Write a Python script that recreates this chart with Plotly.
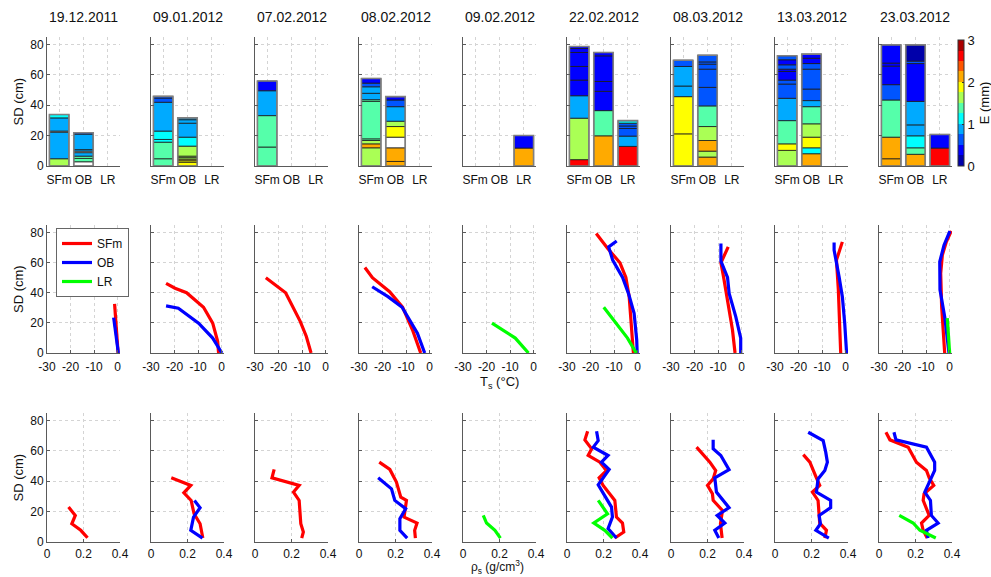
import plotly.graph_objects as go

W, H = 991, 577

dates = ["19.12.2011", "09.01.2012", "07.02.2012", "08.02.2012", "09.02.2012",
         "22.02.2012", "08.03.2012", "13.03.2012", "23.03.2012"]
sites = ["SFm", "OB", "LR"]

# ---- Snow layers: top of each layer (cm, from bottom) and E (mm); None = no data
SFm_top = [[4.8, 22.3, 23.0, 31.7, 33.9],
           [4.8, 15.7, 17.5, 23.0, 42.0, 44.8, 45.9],
           [12.5, 33.2, 49.6, 56.0],
           [12.0, 14.6, 16.8, 17.9, 42.6, 43.7, 47.9, 52.2, 54.6, 57.7],
           [],
           [4.2, 31.5, 46.3, 56.6, 65.6, 74.8, 77.4, 78.7],
           [21.2, 45.7, 52.7, 65.6, 69.7],
           [10.3, 14.6, 29.9, 44.6, 54.0, 56.6, 62.3, 63.8, 66.7, 70.0, 72.6],
           [4.8, 19.0, 43.5, 53.6, 65.8, 67.8, 79.8]]
SFm_E = [[1.6, 0.9, None, 0.9, 1.1],
         [1.4, 1.4, 1.1, 1.1, 0.9, 0.6, 0.6],
         [1.4, 1.4, 0.9, 0.4],
         [1.6, 2.1, 1.6, 1.4, 1.4, 1.4, 0.9, 0.9, 0.6, 0.4],
         [],
         [2.6, 1.6, 0.9, 0.4, 0.4, 0.4, 0.4, 0.4],
         [1.9, 1.9, 0.9, 0.9, 0.6],
         [1.6, 1.9, 1.4, 0.9, 0.6, 0.6, 0.4, 0.4, 0.6, 0.4, 0.6],
         [2.1, 2.1, 1.4, 0.6, 0.4, 0.4, 0.4]]
OB_top = [[2.8, 5.0, 6.5, 8.8, 9.8, 10.8, 21.0, 21.9],
          [2.5, 3.5, 4.5, 5.5, 6.5, 13.1, 19.0, 28.2, 30.5, 31.7],
          [],
          [3.0, 12.0, 19.0, 26.0, 29.5, 39.1, 43.5, 45.7],
          [],
          [19.9, 36.5, 49.2, 55.7, 72.6, 74.8],
          [5.9, 9.8, 16.8, 26.0, 39.6, 51.8, 63.8, 67.1, 68.6, 73.0],
          [8.1, 12.0, 19.0, 27.8, 39.1, 43.1, 50.7, 63.8, 67.5, 71.0, 73.7],
          [7.7, 12.0, 19.9, 27.1, 42.6, 67.5, 69.1, 79.8]]
OB_E = [[None, 1.4, 1.4, 0.9, None, 0.9, 0.9, 0.6],
        [1.9, 1.9, 1.9, 1.6, 1.6, 1.6, 1.1, 0.9, 0.9, 0.9],
        [],
        [2.1, 2.1, None, 1.9, 1.6, 0.9, 0.6, 0.4],
        [],
        [2.1, 1.4, 0.4, 0.4, 0.4, 0.4],
        [2.1, 1.6, 2.1, 1.6, 1.4, 0.6, 0.6, 0.6, 0.6, 0.6],
        [2.1, 1.1, 1.9, 1.6, 1.4, 0.9, 0.6, 0.6, 0.6, 0.4, 0.4],
        [2.1, 1.4, 1.1, 0.9, 0.9, 0.4, 0.6, 0.1]]
LR_top = [[], [], [], [], [11.8, 20.1],
          [12.9, 19.7, 24.7, 26.4, 28.2, 29.9],
          [], [], [11.8, 20.8]]
LR_E = [[], [], [], [], [2.1, 0.4],
        [2.6, 0.9, 0.6, 0.6, 0.6, 1.1],
        [], [], [2.6, 0.4]]

# ---- Temperature profiles (degC) and depth (cm)
SFm_T = [[-1.3, -0.8, -0.2, 0.2],
         [-23.6, -19.8, -14.9, -7.7, -3.8, -1.7, -1.3],
         [-25.4, -17.0, -10.8, -8.2, -6.2],
         [-27.5, -24.3, -17.0, -11.5, -7.3, -3.8],
         [],
         [-17.6, -12.7, -7.5, -5.0, -3.6, -2.7, -1.8],
         [-5.7, -8.8, -7.7, -5.7, -3.9, -2.8],
         [-1.4, -3.9, -3.1, -2.1],
         [0.7, -1.4, -3.1, -3.8, -3.4, -2.1]]
SFm_T_SD = [[32.6, 20, 10, 0],
            [46.3, 43, 40, 30.4, 19.8, 7.7, 0],
            [50, 40, 21, 11, 0],
            [56.8, 50, 40.7, 30.4, 15.4, 0],
            [],
            [79.3, 69.4, 59.9, 50.2, 37.4, 19.8, 0],
            [70.5, 59.9, 50.7, 30.8, 15.4, 0],
            [73.8, 61.7, 41.9, 0],
            [81, 73.8, 65, 52.9, 30.8, 0]]
OB_T = [[-1.7, -1.4, -0.4, 0.3],
        [-23.6, -18.4, -9.8, -3.8, 0.1],
        [],
        [-24.4, -17.7, -11.7, -5.2, -2.1],
        [],
        [-8.9, -12.3, -10.6, -6.4, -3.9, -1.5, -0.4, -0.2],
        [-8.8, -8.8, -6.0, -5.3, -2.5, -0.4, -0.4],
        [-4.9, -4.9, -2.8, -1.4, -0.4, 0.4],
        [0.1, -2.4, -4.2, -4.1, -2.0, -0.3]]
OB_T_SD = [[23.5, 20, 11, 0],
           [31.3, 29.7, 19.8, 9.9, 0],
           [],
           [44, 37.4, 30.4, 13.2, 0],
           [],
           [74.4, 70.5, 61.7, 50.2, 39.6, 26.4, 8.8, 0],
           [72.7, 61, 50.2, 39.6, 24.2, 9.9, 0],
           [73.3, 68.3, 50.7, 37.4, 19.8, 0],
           [81, 71.6, 60.6, 41.9, 23.1, 0]]
LR_T = [[], [], [], [], [-17.7, -7.8, -2.2], [-14.4, -4.3, -0.6], [], [], [-1.0, 0.0]]
LR_T_SD = [[], [], [], [], [19.8, 9.9, 0], [30.4, 9.9, 0], [], [], [23.1, 0]]

# ---- Density profiles (g/cm3) and depth (cm)
SFm_rho = [[0.118, 0.155, 0.136, 0.185, 0.222],
           [0.111, 0.218, 0.18, 0.22, 0.236, 0.269, 0.284],
           [0.105, 0.093, 0.242, 0.211, 0.242, 0.251, 0.265, 0.256],
           [0.111, 0.169, 0.205, 0.229, 0.26, 0.247, 0.318, 0.305, 0.309],
           [],
           [0.113, 0.098, 0.135, 0.116, 0.18, 0.216, 0.176, 0.198, 0.262, 0.271, 0.304, 0.311, 0.262],
           [0.14, 0.213, 0.245, 0.231, 0.2, 0.227, 0.231, 0.282, 0.271, 0.28],
           [0.155, 0.191, 0.227, 0.245, 0.205, 0.236, 0.245, 0.282, 0.273],
           [0.038, 0.06, 0.16, 0.205, 0.26, 0.275, 0.3, 0.247, 0.242, 0.275, 0.233, 0.242, 0.264]]
SFm_rho_SD = [[23, 17.5, 12, 7.7, 2.8],
              [42.3, 37.3, 32.4, 27.4, 18.6, 12, 2.6],
              [47.8, 42.3, 37.3, 32.9, 27.4, 12, 6.6, 2.6],
              [52.6, 47.8, 39.5, 29.6, 27.4, 16.4, 12.5, 7.7, 2.6],
              [],
              [73, 67.3, 61.4, 57, 52.6, 47.1, 42.3, 37.3, 27.4, 16.4, 12.5, 6.6, 2.6],
              [62.5, 52.6, 47.1, 41.6, 37.3, 31.8, 27.4, 20.8, 12, 2.6],
              [57.6, 52.6, 42.3, 37.3, 32.9, 27.4, 12.5, 7.7, 2.6],
              [72.3, 67.3, 62.5, 52.6, 47.1, 42.3, 37.3, 31.8, 27.4, 17.5, 12.5, 7.7, 2.6]]
OB_rho = [[],
          [0.238, 0.269, 0.233, 0.218, 0.282],
          [],
          [0.105, 0.178, 0.196, 0.256, 0.224, 0.224, 0.264],
          [],
          [0.162, 0.171, 0.144, 0.225, 0.189, 0.231, 0.171, 0.244, 0.249, 0.225, 0.271],
          [0.231, 0.231, 0.273, 0.318, 0.24, 0.249, 0.318, 0.253, 0.295, 0.24, 0.262],
          [0.182, 0.264, 0.278, 0.287, 0.273, 0.236, 0.227, 0.305, 0.305, 0.242, 0.249, 0.224, 0.295],
          [0.082, 0.093, 0.26, 0.305, 0.305, 0.251, 0.282, 0.287, 0.324, 0.26, 0.269]]
OB_rho_SD = [[],
             [27.4, 22.6, 16.4, 7.7, 2.6],
             [],
             [42.3, 35, 27.4, 21.9, 15.3, 7.7, 2.6],
             [],
             [73, 66.8, 62.5, 57, 52.6, 47.8, 37.7, 23, 16.4, 8.8, 2.6],
             [67.3, 61.4, 57, 47.6, 42.3, 32.9, 22.6, 17.5, 12.5, 7.7, 2.6],
             [72.3, 66.8, 59.2, 52.6, 47.1, 41.6, 32.9, 27.4, 22.6, 17.5, 12, 7.7, 2.6],
             [72.3, 67.3, 62.5, 52.6, 47.1, 32.9, 27.4, 17.5, 12.5, 7.7, 2.6]]
LR_rho = [[], [], [], [], [0.111, 0.129, 0.175, 0.205],
          [0.171, 0.222, 0.147, 0.207, 0.249], [], [], [0.111, 0.187, 0.224, 0.311]]
LR_rho_SD = [[], [], [], [], [17.5, 12.5, 7.7, 2.6],
             [27.4, 18.6, 12.5, 7.7, 2.6], [], [], [17.5, 12.5, 7.7, 2.6]]

# tick labels
T_ticks = [-30, -20, -10, 0]
T_ticktext = ["-30", "-20", "-10", "0"]
rho_ticks = [0, 0.2, 0.4]
rho_ticktext = ["0", "0.2", "0.4"]
SD_ticks = [0, 20, 40, 60, 80]
E_ticks = [0, 1, 2, 3]

# ---- Styles
jet12 = ["#0000AA", "#0000FF", "#0055FF", "#00AAFF", "#00FFFF", "#55FFAA",
         "#AAFF55", "#FFFF00", "#FFAA00", "#FF5500", "#FF0000", "#AA0000"]
E_max = 3.0
line_colors = {"SFm": "#FF0000", "OB": "#0000FF", "LR": "#00FF00"}
FONT = "Liberation Sans, Arial, sans-serif"
AXC = "#5a5a5a"
GRIDC = "#d4d4d4"
TXT = "#111111"


def e_color(e):
    if e is None:
        return "#FFFFFF"
    k = int(e / (E_max / len(jet12)))
    return jet12[max(0, min(k, len(jet12) - 1))]


layer_tops = {"SFm": SFm_top, "OB": OB_top, "LR": LR_top}
layer_E = {"SFm": SFm_E, "OB": OB_E, "LR": LR_E}
T_prof = {"SFm": (SFm_T, SFm_T_SD), "OB": (OB_T, OB_T_SD), "LR": (LR_T, LR_T_SD)}
rho_prof = {"SFm": (SFm_rho, SFm_rho_SD), "OB": (OB_rho, OB_rho_SD), "LR": (LR_rho, LR_rho_SD)}

fig = go.Figure()
layout = {}

col_left0, col_step, col_w = 47, 104, 73
row_px = [(37, 166), (225, 353), (413, 542)]


def dom_x(c):
    l = col_left0 + c * col_step
    return [l / W, (l + col_w) / W]


def dom_y(r):
    t, b = row_px[r]
    return [1 - b / H, 1 - t / H]


base_axis = dict(showline=True, linecolor=AXC, linewidth=1, ticks="inside", ticklen=3,
                 tickcolor=AXC, showgrid=True, gridcolor=GRIDC, griddash="dot", gridwidth=1,
                 zeroline=False, tickfont=dict(family=FONT, size=12, color=TXT), mirror=False)

legend_done = set()
for r in range(3):
    for c in range(len(dates)):
        n = r * len(dates) + c + 1
        xa, ya = f"x{n}", f"y{n}"
        xk, yk = f"xaxis{n}", f"yaxis{n}"
        xd = dict(base_axis, domain=dom_x(c), anchor=ya, ticklabelstandoff=(1 if r == 2 else 3))
        yd = dict(base_axis, domain=dom_y(r), anchor=xa, range=[0, 85],
                  tickvals=SD_ticks, showticklabels=(c == 0))
        if r == 0:
            xd.update(range=[0.5, len(sites) + 0.5], tickvals=[i + 1 for i in range(len(sites))],
                      ticktext=sites, ticks="")
            xs, bases, ths, cols = [], [], [], []
            tx, tt = [], []
            for si, s in enumerate(sites):
                tops = layer_tops[s][c]
                es = layer_E[s][c]
                prev = 0.0
                for tp, e in zip(tops, es):
                    xs.append(si + 1)
                    bases.append(prev)
                    ths.append(tp - prev)
                    cols.append(e_color(e))
                    prev = tp
                if tops:
                    tx.append(si + 1)
                    tt.append(tops[-1])
            if xs:
                fig.add_trace(go.Bar(x=xs, y=ths, base=bases, width=0.8, xaxis=xa, yaxis=ya,
                                     marker=dict(color=cols, line=dict(color="#1a1a1a", width=0.8)),
                                     showlegend=False, hoverinfo="skip"))
                fig.add_trace(go.Bar(x=tx, y=tt, base=[0] * len(tx), width=0.8, xaxis=xa, yaxis=ya,
                                     marker=dict(color="rgba(0,0,0,0)", line=dict(color="#808080", width=1.6)),
                                     showlegend=False, hoverinfo="skip"))
        else:
            prof = T_prof if r == 1 else rho_prof
            if r == 1:
                xd.update(range=[-30, 1], tickvals=T_ticks, ticktext=T_ticktext)
            else:
                xd.update(range=[0, 0.4], tickvals=rho_ticks, ticktext=rho_ticktext)
            for s in sites:
                xv, yv = prof[s][0][c], prof[s][1][c]
                if not xv:
                    continue
                show = (r == 1 and s not in legend_done)
                if show:
                    legend_done.add(s)
                fig.add_trace(go.Scatter(x=xv, y=yv, mode="lines", name=s, xaxis=xa, yaxis=ya,
                                         line=dict(color=line_colors[s], width=3.2),
                                         showlegend=show, legendrank=sites.index(s) + 1,
                                         hoverinfo="skip"))
        layout[xk] = xd
        layout[yk] = yd

# colorbar
cscale = []
for k, col in enumerate(jet12):
    cscale.append([k / len(jet12), col])
    cscale.append([(k + 1) / len(jet12), col])
fig.add_trace(go.Scatter(x=[None], y=[None], mode="markers", xaxis="x9", yaxis="y9",
                         showlegend=False, hoverinfo="skip",
                         marker=dict(colorscale=cscale, cmin=0, cmax=E_max, color=[0],
                                     showscale=True,
                                     colorbar=dict(x=958 / W, xanchor="left", xpad=0, ypad=0,
                                                   y=1 - 103 / H, yanchor="middle",
                                                   len=126 / H, lenmode="fraction",
                                                   thickness=6, thicknessmode="pixels",
                                                   outlinecolor="#333", outlinewidth=1,
                                                   tickvals=E_ticks, ticks="inside", ticklen=2,
                                                   tickcolor="#333",
                                                   tickfont=dict(family=FONT, size=13, color=TXT),
                                                   title=dict(text="E (mm)", side="right",
                                                              font=dict(family=FONT, size=13, color=TXT))))))

annotations = []
for c, d in enumerate(dates):
    xd = dom_x(c)
    annotations.append(dict(text=d, x=(xd[0] + xd[1]) / 2, y=1 - 17 / H, xref="paper", yref="paper",
                            showarrow=False, xanchor="center", yanchor="middle",
                            font=dict(family=FONT, size=14, color=TXT)))
for r in range(3):
    t, b = row_px[r]
    annotations.append(dict(text="SD (cm)", x=18 / W, y=1 - (t + b) / 2 / H, xref="paper", yref="paper",
                            showarrow=False, textangle=-90, xanchor="center", yanchor="middle",
                            font=dict(family=FONT, size=13, color=TXT)))
annotations.append(dict(text="T<sub>s</sub> (°C)", x=499 / W, y=1 - 382 / H, xref="paper", yref="paper",
                        showarrow=False, xanchor="center", yanchor="middle",
                        font=dict(family=FONT, size=13, color=TXT)))
annotations.append(dict(text="ρ<sub>s</sub> (g/cm<sup>3</sup>)", x=497 / W, y=0, xref="paper",
                        yref="paper", showarrow=False, xanchor="center", yanchor="bottom",
                        borderpad=0, font=dict(family=FONT, size=12, color=TXT)))

fig.update_layout(
    width=W, height=H, margin=dict(l=0, r=0, t=0, b=0, autoexpand=False),
    paper_bgcolor="white", plot_bgcolor="white", barmode="overlay",
    font=dict(family=FONT, size=12, color=TXT),
    showlegend=True,
    legend=dict(x=56 / W, y=1 - 228 / H, xanchor="left", yanchor="top",
                bgcolor="white", bordercolor="#666", borderwidth=1,
                font=dict(family=FONT, size=12, color=TXT), tracegroupgap=0,
                itemwidth=30),
    annotations=annotations,
    **layout,
)

fig.write_html("out.html")
